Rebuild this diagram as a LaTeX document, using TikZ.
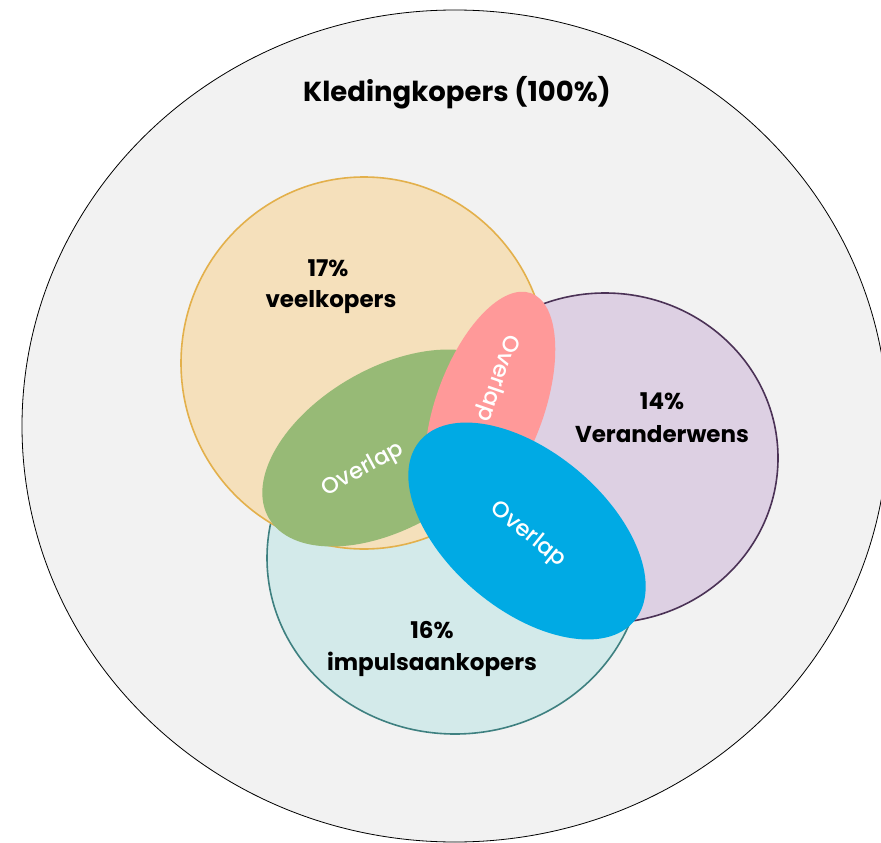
\documentclass[tikz,border=0pt]{standalone}
\usepackage{fontspec}
\setmainfont{Poppins}
\newfontfamily\pbold{Poppins Bold}
\newfontfamily\preg{Poppins Medium}
\definecolor{bgc}{HTML}{F2F2F2}
\definecolor{orf}{HTML}{F5E0BB}
\definecolor{ord}{HTML}{E3B04B}
\definecolor{purf}{HTML}{DDD0E3}
\definecolor{purd}{HTML}{4B3256}
\definecolor{tealf}{HTML}{D3EAEA}
\definecolor{teald}{HTML}{3E8080}
\definecolor{cgreen}{HTML}{97BA76}
\definecolor{cpink}{HTML}{FF9999}
\definecolor{cblue}{HTML}{00AAE4}
\begin{document}
\begin{tikzpicture}[x=1pt,y=-1pt,
  titlef/.style={font=\pbold\fontsize{27.5}{30}\selectfont, text=black, inner sep=0pt, anchor=base},
  lbl/.style={font=\pbold\fontsize{23}{25}\selectfont, text=black, inner sep=0pt, anchor=base},
  ovl/.style={font=\preg\fontsize{22.5}{24}\selectfont, text=white, inner sep=0pt},
  setline/.style={line width=1.6pt}]
\clip (0,0) rectangle (881,843);
\fill[white] (0,0) rectangle (881,843);
\draw[fill=bgc, draw=black, line width=0.8pt] (455,426) ellipse [x radius=433, y radius=416];
\draw[setline, fill=tealf, draw=teald] (455,558) ellipse [x radius=188, y radius=176];
\draw[setline, fill=purf, draw=purd] (605,458) ellipse [x radius=173, y radius=165];
\draw[setline, fill=orf, draw=ord] (364,363) ellipse [x radius=183, y radius=186];
\fill[cgreen, rotate around={30:(390,448)}] (390,448) ellipse [x radius=140, y radius=80];
\fill[cpink, rotate around={70:(490,406)}] (490,406) ellipse [x radius=120, y radius=54];
\fill[cblue, rotate around={-40:(527,531)}] (527,531) ellipse [x radius=140, y radius=79];
\node[titlef] (title) at (457,102) {Kledingkopers (100\%)};
\node[lbl] (p17) at (328,276) {17\%};
\node[lbl] (veel) at (331,307) {veelkopers};
\node[lbl] (p14) at (662,409) {14\%};
\node[lbl] (veran) at (662,442) {Veranderwens};
\node[lbl] (p16) at (432,638) {16\%};
\node[lbl] (impuls) at (432,670) {impulsaankopers};
\node[ovl, rotate=28.5] (ovgreen) at (363,470) {Overlap};
\node[ovl, rotate=-109] (ovpink) at (497,378) {Overlap};
\node[ovl, rotate=-39] (ovblue) at (528,535) {Overlap};
\end{tikzpicture}
\end{document}
